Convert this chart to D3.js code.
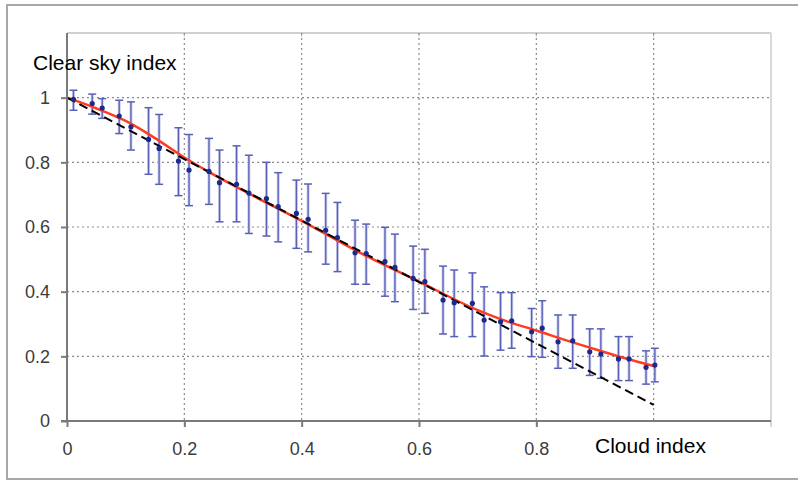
<!DOCTYPE html>
<html>
<head>
<meta charset="utf-8">
<script src="https://cdn.jsdelivr.net/npm/d3@7"></script>
<style>
  body { margin: 0; background: #fff; }
  svg { display: block; font-family: "Liberation Sans", Arial, sans-serif; }
</style>
</head>
<body>
<div id="chart"></div>
<script>
// cloud index vs clear sky index, mean +/- std per bin
var cloudIdx = [0.011,0.043,0.060,0.089,0.109,0.139,0.157,0.190,0.208,0.242,0.260,0.289,0.310,0.340,0.360,0.391,0.411,0.441,0.461,0.491,0.510,0.542,0.559,0.590,0.610,0.641,0.660,0.691,0.711,0.739,0.758,0.792,0.810,0.837,0.862,0.891,0.910,0.940,0.958,0.987,1.002];
var clearSky = [0.995,0.982,0.968,0.943,0.910,0.871,0.843,0.804,0.776,0.772,0.737,0.732,0.705,0.688,0.663,0.642,0.624,0.590,0.567,0.520,0.518,0.493,0.475,0.441,0.431,0.374,0.366,0.364,0.312,0.307,0.310,0.276,0.287,0.245,0.248,0.214,0.207,0.192,0.192,0.166,0.173];
var errHigh = [1.023,1.011,0.997,0.992,0.987,0.969,0.948,0.907,0.886,0.874,0.838,0.851,0.822,0.800,0.768,0.745,0.733,0.704,0.676,0.621,0.609,0.599,0.578,0.541,0.531,0.479,0.467,0.458,0.415,0.397,0.397,0.348,0.372,0.328,0.328,0.285,0.285,0.261,0.261,0.217,0.225];
var errLow = [0.961,0.949,0.936,0.889,0.838,0.763,0.732,0.697,0.666,0.670,0.616,0.616,0.580,0.572,0.554,0.534,0.523,0.485,0.462,0.423,0.423,0.386,0.369,0.345,0.333,0.269,0.261,0.261,0.201,0.219,0.225,0.199,0.197,0.163,0.163,0.141,0.132,0.125,0.125,0.114,0.121];

// fitted curve (red)
var fitX = [0,0.05,0.1,0.15,0.2,0.25,0.3,0.4,0.5,0.6,0.7,0.75,0.8,0.85,0.9,0.95,1.0];
var fitY = [1.0,0.967,0.928,0.875,0.815,0.762,0.713,0.619,0.520,0.431,0.343,0.308,0.280,0.250,0.222,0.195,0.170];

// linear reference (dashed)
var lineX = [0, 1.0];
var lineY = [1.0, 0.05];

var xTicks = [0, 0.2, 0.4, 0.6, 0.8];
var yTicks = [0, 0.2, 0.4, 0.6, 0.8, 1];
var gridTicks = [0.2, 0.4, 0.6, 0.8, 1.0];

var width = 798, height = 481;
var margin = {top: 33, right: 27, bottom: 60, left: 67};

var svg = d3.select("#chart").append("svg")
  .attr("width", width)
  .attr("height", height);

// outer frame
svg.append("rect")
  .attr("x", 7).attr("y", 5)
  .attr("width", 820).attr("height", 474)
  .attr("fill", "none")
  .attr("stroke", "#a8a8a8")
  .attr("stroke-width", 2);

var x = d3.scaleLinear().domain([0, 1.2]).range([margin.left, width - margin.right]);
var y = d3.scaleLinear().domain([0, 1.2]).range([height - margin.bottom, margin.top]);

var g = svg.append("g");

// plot box top / right
g.append("line")
  .attr("x1", x(0)).attr("x2", x(1.2))
  .attr("y1", y(1.2)).attr("y2", y(1.2))
  .attr("stroke", "#d0d0d0").attr("stroke-width", 2);
g.append("line")
  .attr("x1", x(1.2)).attr("x2", x(1.2))
  .attr("y1", y(1.2)).attr("y2", y(0) + 6)
  .attr("stroke", "#d8d8d8").attr("stroke-width", 2);
[0, 0.2, 0.4, 0.6, 0.8, 1.0].forEach(function(t){
  g.append("line")
    .attr("x1", x(t)).attr("x2", x(t))
    .attr("y1", y(1.2)).attr("y2", y(1.2) + 4)
    .attr("stroke", "#c8c8c8").attr("stroke-width", 1);
});

// dotted grid
g.selectAll("line.gx").data(gridTicks).enter().append("line")
  .attr("class", "gx")
  .attr("x1", d => x(d)).attr("x2", d => x(d))
  .attr("y1", y(1.2)).attr("y2", y(0))
  .attr("stroke", "#8a8a8a").attr("stroke-width", 1.2)
  .attr("stroke-dasharray", "2,3");
g.selectAll("line.gy").data(gridTicks).enter().append("line")
  .attr("class", "gy")
  .attr("x1", x(0)).attr("x2", x(1.2))
  .attr("y1", d => y(d)).attr("y2", d => y(d))
  .attr("stroke", "#8a8a8a").attr("stroke-width", 1.2)
  .attr("stroke-dasharray", "2,3");

// axes
var xAxis = d3.axisBottom(x).tickValues(xTicks).tickSize(6).tickSizeOuter(0)
  .tickFormat(d => d === 0 ? "0" : d3.format(".1f")(d));
var yAxis = d3.axisLeft(y).tickValues(yTicks).tickSize(6).tickSizeOuter(0)
  .tickFormat(d => (d === 0 || d === 1) ? String(d) : d3.format(".1f")(d));

var gx = svg.append("g").attr("transform", "translate(0," + y(0) + ")").call(xAxis);
gx.select(".domain").attr("d", "M" + (x(0) - 6) + ",0H" + x(1.2));
var gy = svg.append("g").attr("transform", "translate(" + x(0) + ",0)").call(yAxis);
gy.select(".domain").attr("d", "M0," + y(1.2) + "V" + y(0));

[gx, gy].forEach(function(a){
  a.select(".domain").attr("stroke", "#7a7a7a").attr("stroke-width", 2);
  a.selectAll(".tick line").attr("stroke", "#7a7a7a").attr("stroke-width", 2);
  a.selectAll(".tick text")
    .attr("fill", "#3c3c3c")
    .style("font-size", "18px")
    .style("font-family", "'Liberation Sans', Arial, sans-serif");
});
gx.selectAll(".tick text").attr("y", 21);
gy.selectAll(".tick text").attr("x", -17);

// error bars
var pts = cloudIdx.map(function(v, i){
  return {x: v, y: clearSky[i], hi: errHigh[i], lo: errLow[i]};
});
var bars = g.append("g").selectAll("g").data(pts).enter().append("g");
bars.append("line")
  .attr("x1", d => x(d.x)).attr("x2", d => x(d.x))
  .attr("y1", d => y(d.hi)).attr("y2", d => y(d.lo))
  .attr("stroke", "#c9cbec").attr("stroke-width", 3);
bars.append("line")
  .attr("x1", d => x(d.x)).attr("x2", d => x(d.x))
  .attr("y1", d => y(d.hi)).attr("y2", d => y(d.lo))
  .attr("stroke", "#5860b6").attr("stroke-width", 1.3);
["hi", "lo"].forEach(function(k){
  bars.append("line")
    .attr("x1", d => x(d.x) - 4).attr("x2", d => x(d.x) + 4)
    .attr("y1", d => y(d[k])).attr("y2", d => y(d[k]))
    .attr("stroke", "#5860b6").attr("stroke-width", 1.5);
});

// fitted curve
var fitLine = d3.line().x(d => x(d[0])).y(d => y(d[1])).curve(d3.curveMonotoneX);
g.append("path")
  .datum(fitX.map((v, i) => [v, fitY[i]]))
  .attr("d", fitLine)
  .attr("fill", "none")
  .attr("stroke", "#ff3b22")
  .attr("stroke-width", 2.5);

// linear reference
g.append("path")
  .datum(lineX.map((v, i) => [v, lineY[i]]))
  .attr("d", d3.line().x(d => x(d[0])).y(d => y(d[1])))
  .attr("fill", "none")
  .attr("stroke", "#000")
  .attr("stroke-width", 2)
  .attr("stroke-dasharray", "9,5");

// mean points
g.append("g").selectAll("circle").data(pts).enter().append("circle")
  .attr("cx", d => x(d.x)).attr("cy", d => y(d.y))
  .attr("r", 2.6)
  .attr("fill", "#1b2a8c");

// axis titles
svg.append("text")
  .attr("x", 33).attr("y", 70)
  .style("font-size", "21px")
  .attr("fill", "#000")
  .text("Clear sky index");
svg.append("text")
  .attr("x", 595).attr("y", 453)
  .style("font-size", "21px")
  .attr("fill", "#000")
  .text("Cloud index");
</script>
</body>
</html>
